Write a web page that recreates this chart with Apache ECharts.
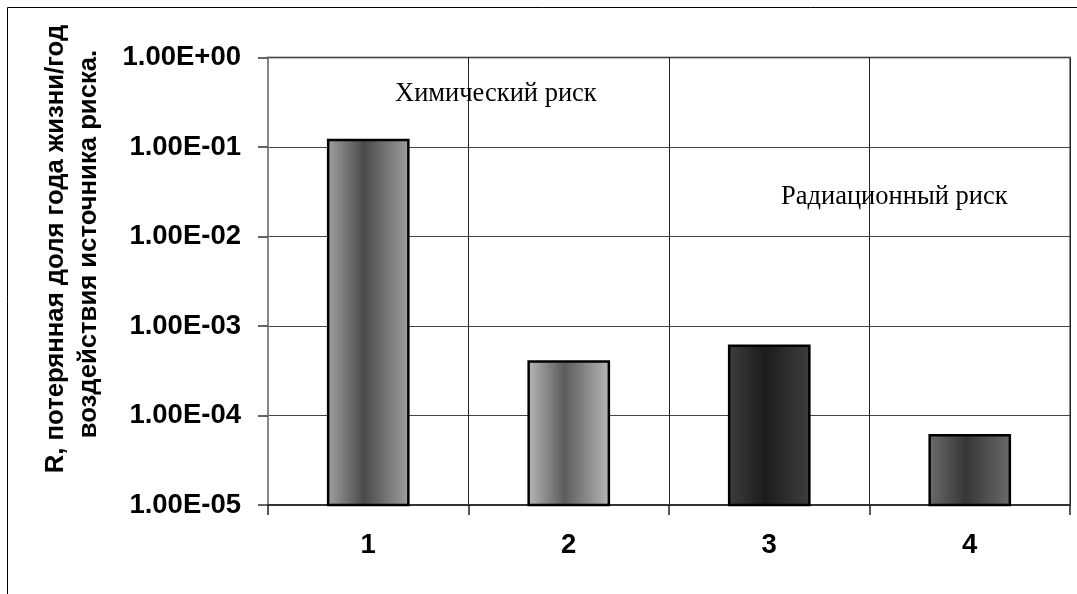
<!DOCTYPE html>
<html><head><meta charset="utf-8">
<script src="https://cdn.jsdelivr.net/npm/echarts@6/dist/echarts.min.js"></script>
<style>html,body{margin:0;padding:0;background:#fff}#c{width:1077px;height:594px}</style>
</head><body><div id="c"></div>
<script>
var categories = ['1', '2', '3', '4'];
var riskValues = [0.12, 4e-4, 6e-4, 6e-5];
var yMin = 1e-5, yMax = 1;
var yTitleLines = ['R, потерянная доля года жизни/год', 'воздействия источника риска.'];
var notes = ['Химический риск', 'Радиационный риск'];

var barGradients = [
  ['#a2a2a2', '#4a4a4a', '#a0a0a0'],
  ['#b8b8b8', '#5c5c5c', '#b8b8b8'],
  ['#3e3e3e', '#1c1c1c', '#3e3e3e'],
  ['#6c6c6c', '#363636', '#6a6a6a']
];

function fmt(v) {
  var e = Math.round(Math.log10(v));
  var s = e < 0 ? '-' : '+';
  var a = Math.abs(e);
  return '1.00E' + s + (a < 10 ? '0' : '') + a;
}

var chart = echarts.init(document.getElementById('c'));
chart.setOption({
  animation: false,
  backgroundColor: '#fff',
  grid: {left: 268, right: 7, top: 57.5, bottom: 89, show: true, borderColor: '#888', borderWidth: 2, backgroundColor: 'transparent'},
  xAxis: {
    type: 'category', data: categories,
    axisLine: {lineStyle: {color: '#333', width: 2}},
    axisTick: {show: true, length: 10, lineStyle: {color: '#222', width: 1.5}},
    splitLine: {show: true, lineStyle: {color: '#222', width: 1}},
    axisLabel: {fontFamily: 'Liberation Sans, Arial', fontWeight: 'bold', fontSize: 27.5, color: '#000', margin: 26}
  },
  yAxis: {
    type: 'log', logBase: 10, min: yMin, max: yMax,
    axisLine: {show: true, lineStyle: {color: '#888', width: 2}},
    axisTick: {show: true, length: 10, lineStyle: {color: '#333', width: 1.5}},
    splitLine: {show: true, lineStyle: {color: '#444', width: 1}},
    axisLabel: {fontFamily: 'Liberation Sans, Arial', fontWeight: 'bold', fontSize: 27.5, color: '#000', margin: 27,
      formatter: function (v) { return fmt(v); }}
  },
  series: [{
    type: 'custom',
    data: riskValues.map(function (v, i) { return [i, v]; }),
    encode: {x: 0, y: 1},
    renderItem: function (params, api) {
      var i = api.value(0), v = api.value(1);
      var top = api.coord([i, v]);
      var bot = api.coord([i, yMin]);
      var w = api.size([1, 0])[0] * 0.4;
      var g = barGradients[params.dataIndex];
      return {
        type: 'rect',
        shape: {x: top[0] - w / 2, y: top[1], width: w, height: bot[1] - top[1]},
        style: {
          fill: new echarts.graphic.LinearGradient(0, 0, 1, 0, [
            {offset: 0, color: g[0]}, {offset: 0.45, color: g[1]}, {offset: 1, color: g[2]}]),
          stroke: '#000', lineWidth: 2.5
        }
      };
    }
  }],
  graphic: [
    {type: 'rect', shape: {x: 7.5, y: 7.5, width: 1200, height: 700}, style: {fill: 'none', stroke: '#000', lineWidth: 1}, silent: true, z: -10},
    {type: 'text', x: 56, y: 249, rotation: Math.PI / 2, z: 100, style: {text: yTitleLines[0], font: 'bold 25.7px "Liberation Sans", Arial', fill: '#000', textAlign: 'center', textVerticalAlign: 'middle'}},
    {type: 'text', x: 89, y: 244, rotation: Math.PI / 2, z: 100, style: {text: yTitleLines[1], font: 'bold 25.7px "Liberation Sans", Arial', fill: '#000', textAlign: 'center', textVerticalAlign: 'middle'}},
    {type: 'text', x: 395, y: 94, z: 100, style: {text: notes[0], font: '26.5px "Liberation Serif", "Times New Roman"', fill: '#000', textAlign: 'left', textVerticalAlign: 'middle'}},
    {type: 'text', x: 781, y: 197, z: 100, style: {text: notes[1], font: '26.5px "Liberation Serif", "Times New Roman"', fill: '#000', textAlign: 'left', textVerticalAlign: 'middle'}}
  ]
});
</script></body></html>
